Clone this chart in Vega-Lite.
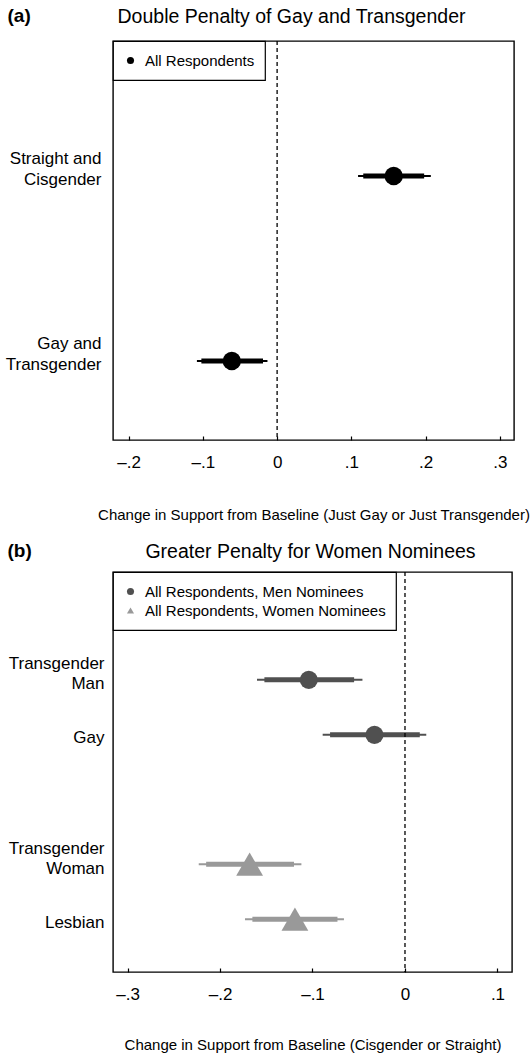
{
  "$schema": "https://vega.github.io/schema/vega-lite/v6.json",
  "background": "white",
  "padding": {"left": 4, "top": 5, "right": 5, "bottom": 5},
  "spacing": 17,
  "resolve": {"scale": {"color": "independent", "shape": "independent"}, "legend": {"color": "independent", "shape": "independent"}},
  "config": {
    "font": "Liberation Sans",
    "view": {"stroke": "black", "strokeWidth": 1.4},
    "title": {"fontSize": 19.5, "fontWeight": "normal", "color": "black"},
    "axis": {"grid": false, "domain": false, "labelColor": "black", "titleColor": "black", "tickColor": "black"},
    "legend": {"orient": "top-left", "offset": 0, "strokeColor": "black", "strokeWidth": 1.2, "padding": 10, "labelFontSize": 15, "symbolSize": 50, "labelOffset": 7, "rowPadding": 0, "clipHeight": 19, "symbolStrokeWidth": 0, "labelColor": "black", "fillColor": "white", "labelLimit": 400}
  },
  "vconcat": [
    {
      "width": 401,
      "height": 399,
      "title": {"text": "Double Penalty of Gay and Transgender", "dx": -22, "offset": -21},
      "data": {"values": [
        {"cat": "Straight and Cisgender", "pos": 1, "series": "All Respondents", "est": 0.157, "lo95": 0.109, "hi95": 0.207, "lo90": 0.116, "hi90": 0.198},
        {"cat": "Gay and Transgender", "pos": 2, "series": "All Respondents", "est": -0.061, "lo95": -0.108, "hi95": -0.013, "lo90": -0.102, "hi90": -0.019}
      ]},
      "layer": [
        {
          "mark": {"type": "rule", "strokeWidth": 2, "color": "black"},
          "encoding": {
            "y": {"field": "pos", "type": "quantitative", "scale": {"domain": [0.27, 2.427], "reverse": true, "nice": false, "zero": false},
              "axis": {"title": "(a)", "values": [1, 2], "labelExpr": "datum.value == 1 ? ['Straight and', 'Cisgender'] : datum.value == 2 ? ['Gay and', 'Transgender'] : ''", "ticks": false, "labelFontSize": 17, "labelPadding": 12, "labelLineHeight": 21, "labelOffset": -18, "minExtent": 106, "titleAngle": 0, "titleX": -106, "titleY": -26, "titleAlign": "left", "titleBaseline": "middle", "titleFontSize": 19, "titleFontWeight": "bold"}},
            "x": {"field": "lo95", "type": "quantitative", "scale": {"domain": [-0.221, 0.319], "nice": false, "zero": false},
              "axis": {"title": "Change in Support from Baseline (Just Gay or Just Transgender)", "values": [-0.2, -0.1, 0, 0.1, 0.2, 0.3], "labelExpr": "datum.value == 0 ? '0' : (datum.value < 0 ? '–' : '') + replace(format(abs(datum.value), '.1f'), '0.', '.')", "tickSize": -4, "tickWidth": 1.2, "labelPadding": 18, "labelFontSize": 17, "titleFontSize": 15, "titleFontWeight": "normal", "titlePadding": 37}},
            "x2": {"field": "hi95"}
          }
        },
        {
          "mark": {"type": "rule", "strokeWidth": 5, "color": "black"},
          "encoding": {
            "y": {"field": "pos", "type": "quantitative"},
            "x": {"field": "lo90", "type": "quantitative"},
            "x2": {"field": "hi90"}
          }
        },
        {
          "data": {"values": [{"ref": 0}]},
          "mark": {"type": "rule", "strokeDash": [4, 3], "strokeWidth": 1.3, "color": "black"},
          "encoding": {"x": {"field": "ref", "type": "quantitative"}}
        },
        {
          "mark": {"type": "point", "filled": true, "size": 336, "opacity": 1},
          "encoding": {
            "y": {"field": "pos", "type": "quantitative"},
            "x": {"field": "est", "type": "quantitative"},
            "color": {"field": "series", "type": "nominal", "scale": {"domain": ["All Respondents"], "range": ["black"]}, "legend": {"title": null}},
            "shape": {"field": "series", "type": "nominal", "scale": {"domain": ["All Respondents"], "range": ["circle"]}, "legend": {"title": null}}
          }
        }
      ]
    },
    {
      "width": 399,
      "height": 400,
      "title": {"text": "Greater Penalty for Women Nominees", "dx": -2, "offset": -21},
      "data": {"values": [
        {"cat": "Transgender Man", "pos": 1, "series": "All Respondents, Men Nominees", "est": -0.104, "lo95": -0.160, "hi95": -0.046, "lo90": -0.152, "hi90": -0.055},
        {"cat": "Gay", "pos": 2, "series": "All Respondents, Men Nominees", "est": -0.033, "lo95": -0.089, "hi95": 0.023, "lo90": -0.081, "hi90": 0.016},
        {"cat": "Transgender Woman", "pos": 4.35, "series": "All Respondents, Women Nominees", "est": -0.168, "lo95": -0.223, "hi95": -0.112, "lo90": -0.215, "hi90": -0.120},
        {"cat": "Lesbian", "pos": 5.35, "series": "All Respondents, Women Nominees", "est": -0.119, "lo95": -0.173, "hi95": -0.066, "lo90": -0.165, "hi90": -0.073}
      ]},
      "layer": [
        {
          "mark": {"type": "rule", "strokeWidth": 2},
          "encoding": {
            "y": {"field": "pos", "type": "quantitative", "scale": {"domain": [-0.96, 6.31], "reverse": true, "nice": false, "zero": false},
              "axis": {"title": "(b)", "values": [1, 2, 4.35, 5.35], "labelExpr": "datum.value == 1 ? ['Transgender', 'Man'] : datum.value == 2 ? 'Gay' : datum.value == 4.35 ? ['Transgender', 'Woman'] : datum.value == 5.35 ? 'Lesbian' : ''", "ticks": false, "labelFontSize": 17, "labelPadding": 9, "labelLineHeight": 20, "labelOffset": {"condition": {"test": "datum.value == 2 || datum.value == 5.35", "value": 3}, "value": -16}, "minExtent": 106, "titleAngle": 0, "titleX": -106, "titleY": -22, "titleAlign": "left", "titleBaseline": "middle", "titleFontSize": 19, "titleFontWeight": "bold"}},
            "x": {"field": "lo95", "type": "quantitative", "scale": {"domain": [-0.3157, 0.1157], "nice": false, "zero": false},
              "axis": {"title": "Change in Support from Baseline (Cisgender or Straight)", "values": [-0.3, -0.2, -0.1, 0, 0.1], "labelExpr": "datum.value == 0 ? '0' : (datum.value < 0 ? '–' : '') + replace(format(abs(datum.value), '.1f'), '0.', '.')", "tickSize": -4, "tickWidth": 1.2, "labelPadding": 18, "labelFontSize": 17, "titleFontSize": 15, "titleFontWeight": "normal", "titlePadding": 35}},
            "x2": {"field": "hi95"},
            "color": {"condition": {"test": "datum.series === 'All Respondents, Men Nominees'", "value": "#505050"}, "value": "#999999"}
          }
        },
        {
          "mark": {"type": "rule", "strokeWidth": 5},
          "encoding": {
            "y": {"field": "pos", "type": "quantitative"},
            "x": {"field": "lo90", "type": "quantitative"},
            "x2": {"field": "hi90"},
            "color": {"condition": {"test": "datum.series === 'All Respondents, Men Nominees'", "value": "#505050"}, "value": "#999999"}
          }
        },
        {
          "data": {"values": [{"ref": 0}]},
          "mark": {"type": "rule", "strokeDash": [4, 3], "strokeWidth": 1.3, "color": "black"},
          "encoding": {"x": {"field": "ref", "type": "quantitative"}}
        },
        {
          "mark": {"type": "point", "filled": true, "opacity": 1},
          "encoding": {
            "y": {"field": "pos", "type": "quantitative"},
            "x": {"field": "est", "type": "quantitative"},
            "size": {"condition": {"test": "datum.series === 'All Respondents, Men Nominees'", "value": 330}, "value": 720},
            "color": {"field": "series", "type": "nominal", "scale": {"domain": ["All Respondents, Men Nominees", "All Respondents, Women Nominees"], "range": ["#505050", "#999999"]}, "legend": {"title": null}},
            "shape": {"field": "series", "type": "nominal", "scale": {"domain": ["All Respondents, Men Nominees", "All Respondents, Women Nominees"], "range": ["circle", "triangle-up"]}, "legend": {"title": null}}
          }
        }
      ]
    }
  ]
}
